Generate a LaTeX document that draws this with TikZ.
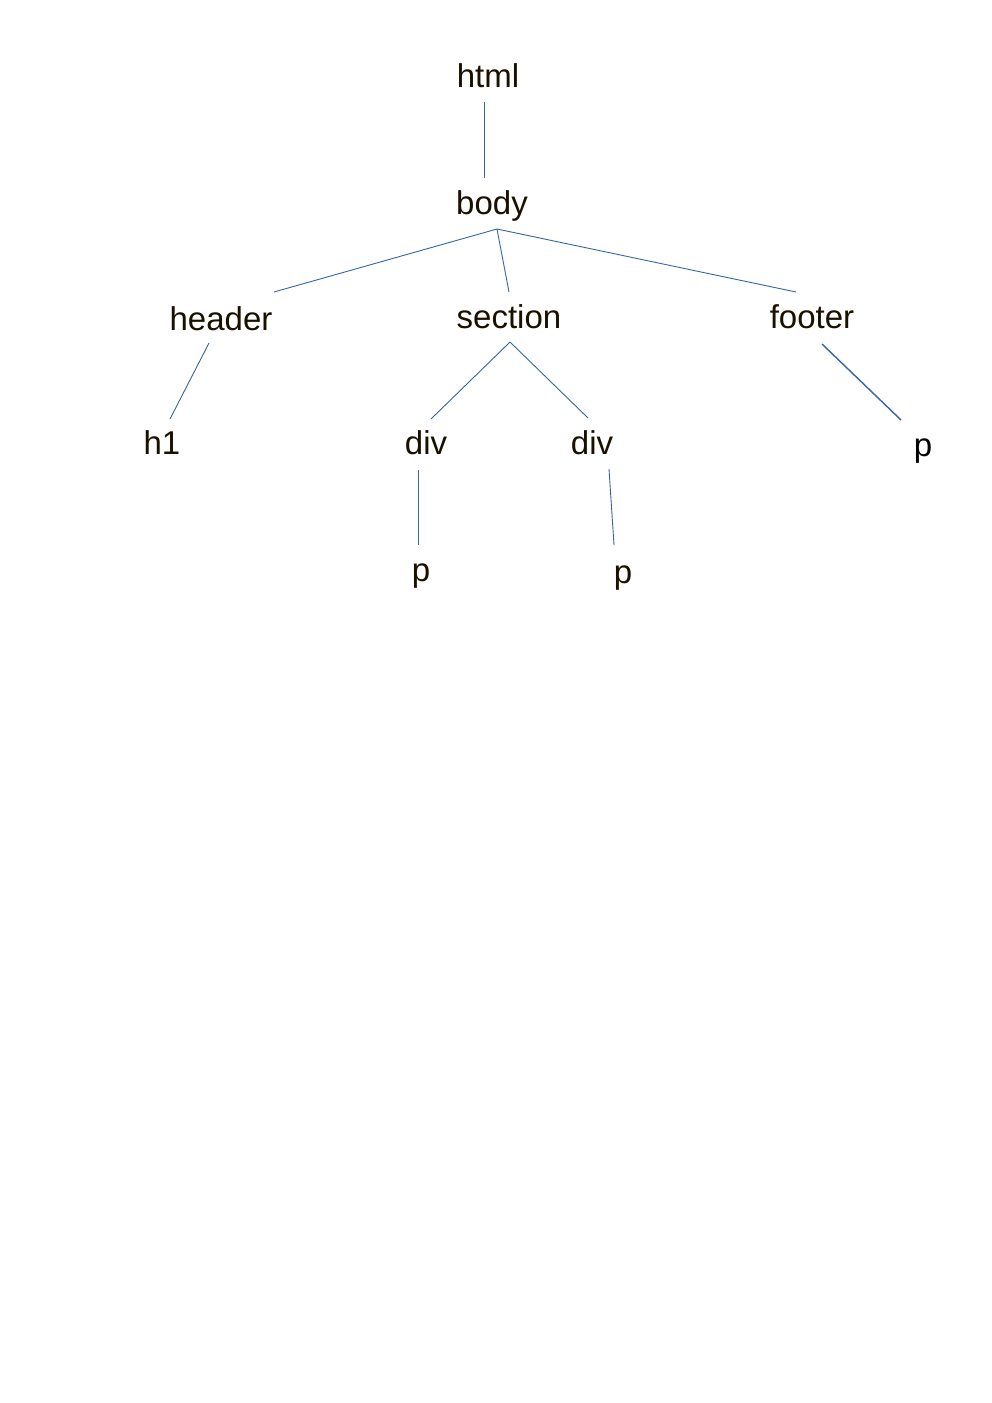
\documentclass[tikz,border=0pt]{standalone}
\usepackage{fontspec}
\setmainfont{Liberation Sans}
\definecolor{edgeblue}{HTML}{3465A4}
\definecolor{txt}{HTML}{1A1000}
\begin{document}
\begin{tikzpicture}[x=1pt,y=-1pt,
  tag/.style={anchor=base,inner sep=0pt,font=\fontsize{33}{39}\selectfont,text=txt},
  edge/.style={draw=edgeblue,line width=0.9pt},
  thickedge/.style={draw=edgeblue,line width=1.4pt}]
\useasboundingbox (0,0) rectangle (992,1403);
% nodes
\node[tag] (html) at (488,87) {html};
\node[tag] (body) at (492,214) {body};
\node[tag] (header) at (221,330) {header};
\node[tag] (section) at (509,328) {section};
\node[tag] (footer) at (812,328) {footer};
\node[tag] (h1) at (162,454) {h1};
\node[tag] (div1) at (426,454) {div};
\node[tag] (div2) at (592,454) {div};
\node[tag,text=black] (pfoot) at (923,456) {p};
\node[tag] (p1) at (421,581) {p};
\node[tag] (p2) at (623,583) {p};
% connector end points
\coordinate (html-s) at (484,102);
\coordinate (body-n) at (484,178);
\coordinate (body-s) at (497,229);
\coordinate (header-n) at (274,292);
\coordinate (section-n) at (509,292);
\coordinate (footer-n) at (796,292);
\coordinate (header-s) at (209,343);
\coordinate (h1-n) at (170,419);
\coordinate (section-s) at (510,342);
\coordinate (div1-n) at (431,419);
\coordinate (div2-n) at (588,418);
\coordinate (footer-s) at (822,344);
\coordinate (pfoot-n) at (901,420);
\coordinate (div1-s) at (418,470);
\coordinate (p1-n) at (418,545);
\coordinate (div2-s) at (609,469);
\coordinate (p2-n) at (614,545);
% connectors
\draw[edge] (html-s) -- (body-n);
\draw[edge] (body-s) -- (header-n);
\draw[edge] (body-s) -- (section-n);
\draw[edge] (body-s) -- (footer-n);
\draw[edge] (header-s) -- (h1-n);
\draw[edge] (section-s) -- (div1-n);
\draw[edge] (section-s) -- (div2-n);
\draw[thickedge] (footer-s) -- (pfoot-n);
\draw[edge] (div1-s) -- (p1-n);
\draw[edge] (div2-s) -- (p2-n);
\end{tikzpicture}
\end{document}
